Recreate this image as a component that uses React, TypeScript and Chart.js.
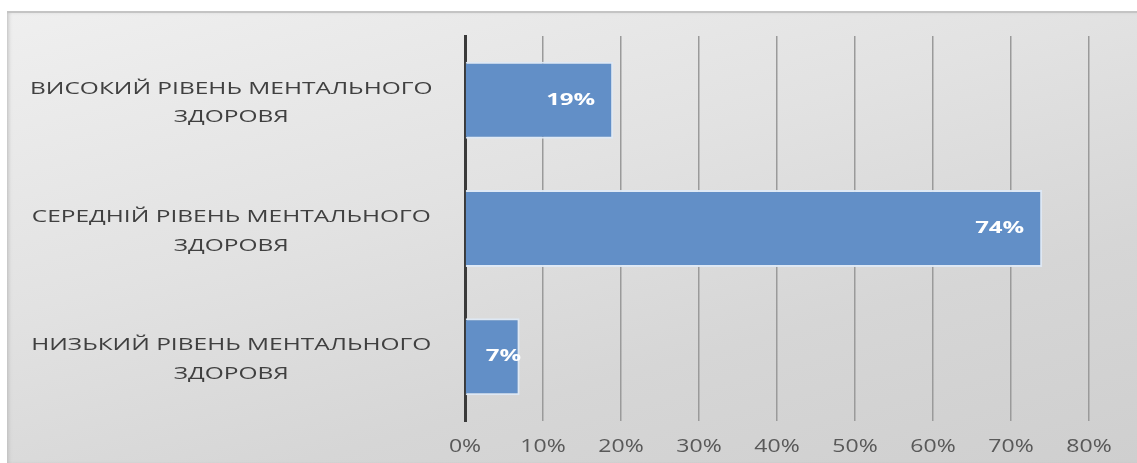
import React, { useEffect, useRef } from "react";
import { Chart, registerables } from "chart.js";

Chart.register(...registerables);

const categories: string[][] = [
  ["ВИСОКИЙ РІВЕНЬ МЕНТАЛЬНОГО", "ЗДОРОВЯ"],
  ["СЕРЕДНІЙ РІВЕНЬ МЕНТАЛЬНОГО", "ЗДОРОВЯ"],
  ["НИЗЬКИЙ РІВЕНЬ МЕНТАЛЬНОГО", "ЗДОРОВЯ"],
];
const values: number[] = [0.19, 0.74, 0.07];
const valueLabels: string[] = ["19%", "74%", "7%"];
const xMax = 0.8;
const xStep = 0.1;

const Y_STRETCH = 1.44;
const X_STRETCH = 1.28;
const LABEL_STRETCH = 1.5;

// horizontally stretch text drawn by a scale (the reference image is widened)
function stretchLabels(s: any, k: number, dy: number) {
  if (s.__stretched) return;
  s.__stretched = true;
  const orig = s.drawLabels.bind(s);
  s.drawLabels = (area: any) => {
    const ctx = s.ctx;
    const fill = ctx.fillText;
    ctx.fillText = function (text: string, x: number, y: number, mw?: number) {
      ctx.save();
      ctx.translate(x, y + dy);
      ctx.scale(k, 1);
      if (mw === undefined) fill.call(ctx, text, 0, 0);
      else fill.call(ctx, text, 0, 0, mw / k);
      ctx.restore();
    };
    try {
      orig(area);
    } finally {
      ctx.fillText = fill;
    }
  };
}

const labelPlugin = {
  id: "insideEndLabels",
  afterDatasetsDraw(chart: any) {
    const ctx = chart.ctx;
    const meta = chart.getDatasetMeta(0);
    ctx.save();
    ctx.font = "bold 16px 'Open Sans', sans-serif";
    ctx.fillStyle = "#ffffff";
    ctx.textAlign = "right";
    ctx.textBaseline = "middle";
    meta.data.forEach((bar: any, i: number) => {
      const txt = valueLabels[i];
      const w = ctx.measureText(txt).width * LABEL_STRETCH;
      const x = Math.max(bar.x - 18, bar.base + w + 20);
      ctx.save();
      ctx.translate(x, bar.y);
      ctx.scale(LABEL_STRETCH, 1);
      ctx.fillText(txt, 0, 0);
      ctx.restore();
    });
    ctx.restore();
  },
};

export default function App() {
  const ref = useRef<HTMLCanvasElement | null>(null);
  useEffect(() => {
    document.body.style.margin = "0";
    document.body.style.overflow = "hidden";
    if (!ref.current) return;
    const chart = new Chart(ref.current, {
      type: "bar",
      data: {
        labels: categories,
        datasets: [
          {
            data: values,
            backgroundColor: "#628fc7",
            borderColor: "rgba(222,233,246,0.95)",
            borderWidth: 2,
            barPercentage: 0.6,
            categoryPercentage: 1,
          },
        ],
      },
      options: {
        indexAxis: "y",
        animation: false,
        responsive: false,
        maintainAspectRatio: false,
        layout: { padding: { top: 23, right: 48, left: 0, bottom: 0 } },
        plugins: { legend: { display: false }, tooltip: { enabled: false } },
        scales: {
          x: {
            min: 0,
            max: xMax,
            ticks: {
              stepSize: xStep,
              callback: (v: any) => Math.round(Number(v) * 100) + "%",
              color: "#595959",
              font: { family: "'Open Sans', sans-serif", size: 18 },
              padding: 15,
            },
            grid: { color: "#9a9a9a", lineWidth: 1.5, drawTicks: false },
            border: { display: false },
            afterFit: (s: any) => {
              s.height = 42;
              stretchLabels(s, X_STRETCH, 0);
            },
          },
          y: {
            ticks: {
              color: "#404040",
              font: { family: "'Open Sans', sans-serif", size: 17, lineHeight: 1.68 },
              crossAlign: "center",
              padding: 94,
            },
            grid: { display: false, drawTicks: false },
            border: { display: true, color: "#3a3a3a", width: 3 },
            afterFit: (s: any) => {
              s.width = 458;
              s.paddingTop = 0;
              s.paddingBottom = 0;
              stretchLabels(s, Y_STRETCH, 3);
            },
          },
        },
      },
      plugins: [labelPlugin],
    } as any);
    return () => chart.destroy();
  }, []);
  return (
    <div
      style={{
        position: "absolute",
        left: 7,
        top: 11,
        width: 1130,
        height: 452,
        borderTop: "2px solid #c4c4c4",
        boxSizing: "border-box",
        background:
          "linear-gradient(165deg, #efefef 0%, #e2e2e2 40%, #d6d6d6 70%, #cfcfcf 100%)",
        boxShadow: "inset 3px 0 4px -2px #b8b8b8",
      }}
    >
      <canvas ref={ref} width={1130} height={450} style={{ display: "block" }} />
    </div>
  );
}
